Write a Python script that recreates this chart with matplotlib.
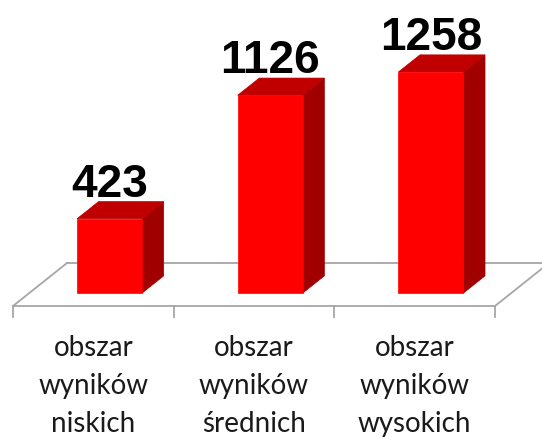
import matplotlib
matplotlib.use("Agg")
import matplotlib.pyplot as plt
from matplotlib.patches import Polygon

# ---- data ----
categories = ["obszar\nwyników\nniskich", "obszar\nwyników\nśrednich", "obszar\nwyników\nwysokich"]
values = [423, 1126, 1258]

# ---- layout (pixel space) ----
W, H = 542, 438
floor_x0, floor_y0 = 13.0, 306.0        # front-left corner of floor
cat_w = 160.67                          # width of one category along the front edge
depth_dx, depth_dy = 54.0, -43.0        # full floor depth vector
bar_z0, bar_dz = 0.30, 0.40             # bar front position and depth (fraction of floor depth)
bar_wfrac = 0.405                       # bar width as fraction of category width
px_per_unit = 0.1757                    # vertical scale
grid_col = "#a6a6a6"
front_col, top_col, side_col = "#ff0000", "#c00000", "#a00000"

fig = plt.figure(figsize=(W / 100, H / 100), dpi=100)
ax = fig.add_axes([0, 0, 1, 1])
ax.set_xlim(0, W)
ax.set_ylim(H, 0)
ax.axis("off")

def proj(u, z, v=0.0):
    """u: position along category axis (in categories), z: depth fraction, v: value."""
    x = floor_x0 + u * cat_w + z * depth_dx
    y = floor_y0 + z * depth_dy - v * px_per_unit
    return (x, y)

n = len(values)
# floor outline
fl = [proj(0, 0), proj(n, 0), proj(n, 1), proj(0, 1)]
ax.plot([fl[0][0], fl[1][0]], [fl[0][1], fl[1][1]], color=grid_col, lw=1.3, zorder=1, solid_capstyle="butt")
ax.plot([fl[1][0], fl[2][0]], [fl[1][1], fl[2][1]], color=grid_col, lw=1.3, zorder=1)
ax.plot([fl[2][0], fl[3][0]], [fl[2][1], fl[3][1]], color=grid_col, lw=1.3, zorder=1)
ax.plot([fl[3][0], fl[0][0]], [fl[3][1], fl[0][1]], color=grid_col, lw=1.3, zorder=1)
# ticks
for k in range(n + 1):
    x, y = proj(k, 0)
    ax.plot([x, x], [y, y + 11], color=grid_col, lw=1.3, zorder=1)

# bars
for i, v in enumerate(values):
    ul = i + 0.5 - bar_wfrac / 2
    ur = i + 0.5 + bar_wfrac / 2
    za, zb = bar_z0, bar_z0 + bar_dz
    front = [proj(ul, za), proj(ur, za), proj(ur, za, v), proj(ul, za, v)]
    side = [proj(ur, za), proj(ur, zb), proj(ur, zb, v), proj(ur, za, v)]
    top = [proj(ul, za, v), proj(ur, za, v), proj(ur, zb, v), proj(ul, zb, v)]
    for poly, c in ((side, side_col), (top, top_col), (front, front_col)):
        ax.add_patch(Polygon(poly, closed=True, facecolor=c, edgecolor=c, lw=0.5, zorder=3))
    # value label
    cx = proj(i + 0.5, za)[0]
    ty = proj(i + 0.5, zb, v)[1]
    ax.text(cx, ty - 5, f"{v}", ha="center", va="baseline", fontsize=33,
            fontweight="bold", family="Liberation Sans", color="black", zorder=4)

# category labels
line_base = [356, 394, 432]
for i, lab in enumerate(categories):
    cx = proj(i + 0.5, 0)[0]
    for j, line in enumerate(lab.split("\n")):
        ax.text(cx, line_base[j], line, ha="center", va="baseline", fontsize=20,
                family="Lato", color="#1a1a1a")

fig.savefig("out.png", dpi=100)
